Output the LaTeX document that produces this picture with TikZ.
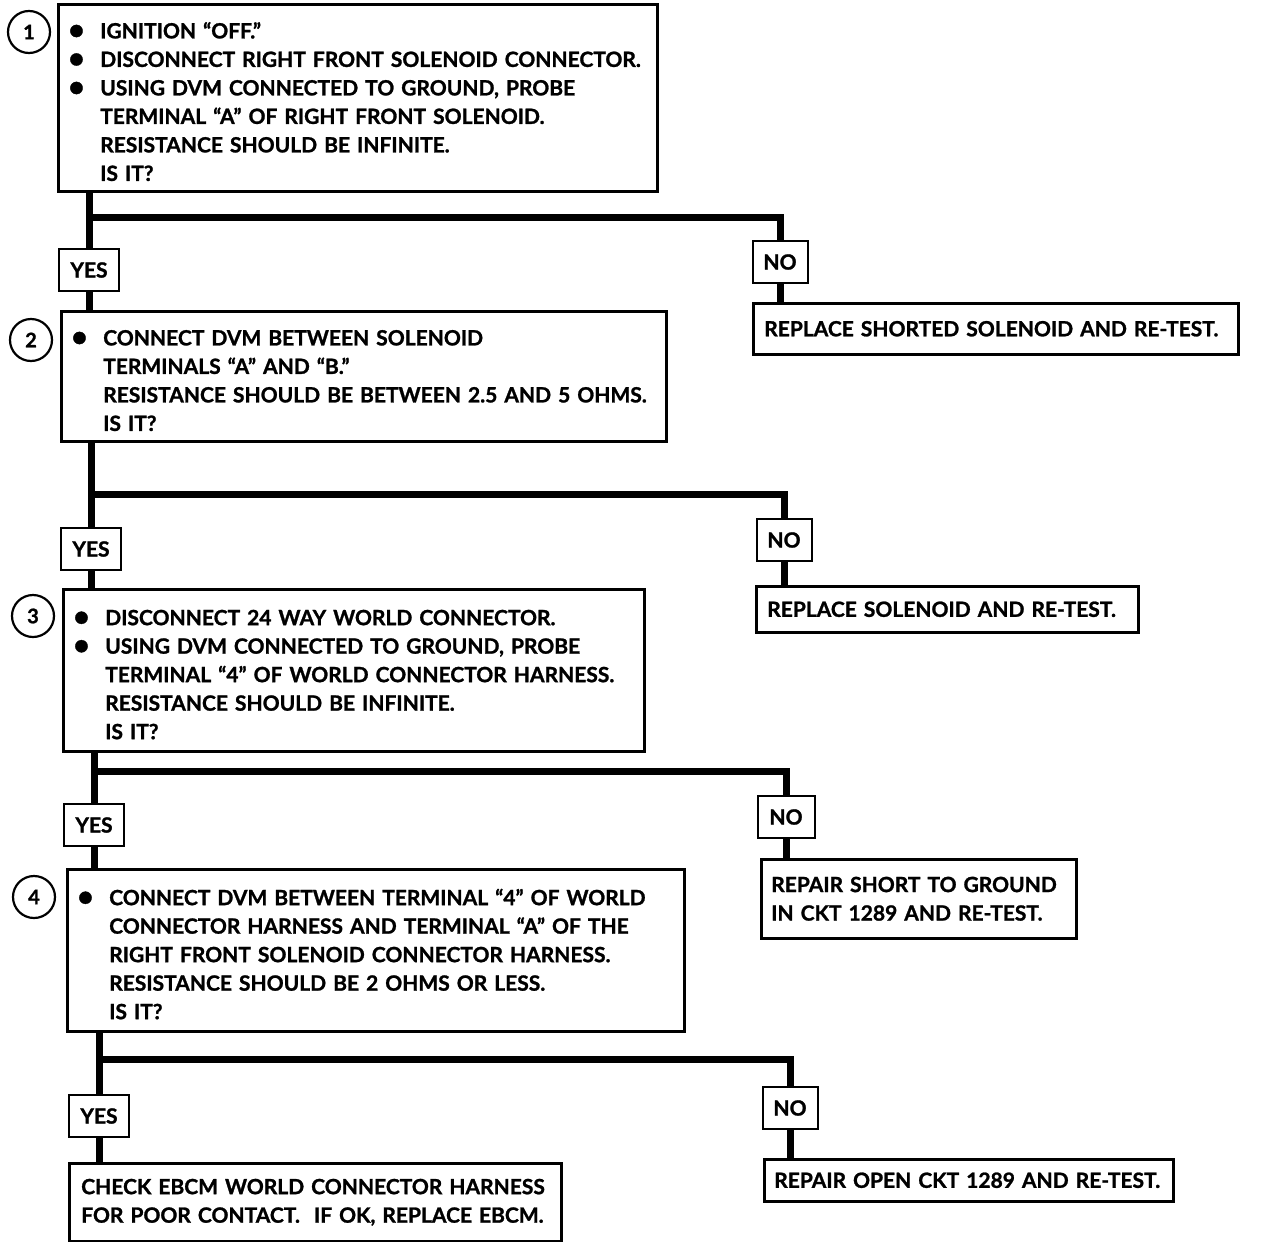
\documentclass[tikz,border=0pt]{standalone}
\usepackage{fontspec}
\setmainfont{Lato}[BoldFeatures={FakeBold=1.2}]
\usetikzlibrary{calc}

\newcommand{\bul}{\makebox[27pt][l]{\hspace*{-5pt}\raisebox{-1pt}{\scalebox{1.35}{\textbullet}}}}
\newcommand{\ind}{\hspace*{27pt}}
\newcommand{\topstrut}{\rule{0pt}{24pt}}

\tikzset{
  txt/.style={font=\bfseries\fontsize{21}{28.5}\selectfont},
  qbox/.style={txt, draw, line width=2.5pt, anchor=north west, align=left, inner xsep=15pt, inner ysep=0pt},
  rbox/.style={txt, draw, line width=2.5pt, anchor=north west, align=left, inner xsep=9pt, inner ysep=0pt},
  ansbox/.style={txt, draw, line width=2pt, minimum width=60pt, minimum height=42pt, inner sep=0pt},
  numcirc/.style={draw, circle, line width=2.2pt, minimum size=42pt, inner sep=0pt, font=\bfseries\fontsize{20}{20}\selectfont},
  link/.style={line width=7pt},
}

\begin{document}
\begin{tikzpicture}[x=1pt,y=-1pt]
\useasboundingbox (0,0) rectangle (1264,1242);

% step 1
\node[qbox, minimum width=599pt, minimum height=187pt, text width=569pt] (q1) at (57,3)
  {\topstrut\bul IGNITION ``OFF.''\\
   \bul DISCONNECT RIGHT FRONT SOLENOID CONNECTOR.\\
   \bul USING DVM CONNECTED TO GROUND, PROBE\\
   \ind TERMINAL ``A'' OF RIGHT FRONT SOLENOID.\\
   \ind RESISTANCE SHOULD BE INFINITE.\\
   \ind IS IT?};
\node[numcirc] (c1) at (29,32) {1};
\node[ansbox] (y1) at (89,270) {YES};
\node[ansbox, minimum width=55pt] (n1) at (780,262) {NO};
\node[rbox, minimum width=485pt, minimum height=51pt, text width=467pt] (r1) at (752,302)
  {\hspace*{2pt}REPLACE SHORTED SOLENOID AND RE-TEST.};

% step 2
\node[qbox, minimum width=605pt, minimum height=130pt, text width=575pt] (q2) at (60,310)
  {\topstrut\bul CONNECT DVM BETWEEN SOLENOID\\
   \ind TERMINALS ``A'' AND ``B.''\\
   \ind RESISTANCE SHOULD BE BETWEEN 2.5 AND 5 OHMS.\\
   \ind IS IT?};
\node[numcirc] (c2) at (31,340) {2};
\node[ansbox] (y2) at (91,549) {YES};
\node[ansbox, minimum width=55pt] (n2) at (784,540) {NO};
\node[rbox, minimum width=382pt, minimum height=46pt, text width=364pt] (r2) at (755,585)
  {\hspace*{2pt}REPLACE SOLENOID AND RE-TEST.};

% step 3
\node[qbox, minimum width=581pt, minimum height=162pt, text width=551pt] (q3) at (62,588)
  {\topstrut\bul DISCONNECT 24 WAY WORLD CONNECTOR.\\
   \bul USING DVM CONNECTED TO GROUND, PROBE\\
   \ind TERMINAL ``4'' OF WORLD CONNECTOR HARNESS.\\
   \ind RESISTANCE SHOULD BE INFINITE.\\
   \ind IS IT?};
\node[numcirc] (c3) at (33,616) {3};
\node[ansbox] (y3) at (94,825) {YES};
\node[ansbox, minimum width=57pt] (n3) at (786,817) {NO};
\node[rbox, minimum width=315pt, minimum height=79pt, text width=297pt] (r3) at (760,858)
  {\hspace*{1pt}REPAIR SHORT TO GROUND\\\hspace*{1pt}IN CKT 1289 AND RE-TEST.};

% step 4
\node[qbox, minimum width=617pt, minimum height=162pt, text width=587pt] (q4) at (66,868)
  {\topstrut\bul CONNECT DVM BETWEEN TERMINAL ``4'' OF WORLD\\
   \ind CONNECTOR HARNESS AND TERMINAL ``A'' OF THE\\
   \ind RIGHT FRONT SOLENOID CONNECTOR HARNESS.\\
   \ind RESISTANCE SHOULD BE 2 OHMS OR LESS.\\
   \ind IS IT?};
\node[numcirc] (c4) at (34,897) {4};
\node[ansbox] (y4) at (99,1116) {YES};
\node[ansbox, minimum width=55pt] (n4) at (790,1108) {NO};
\node[rbox, minimum width=409pt, minimum height=42pt, text width=391pt] (r4) at (763,1158)
  {\hspace*{1pt}REPAIR OPEN CKT 1289 AND RE-TEST.};
\node[rbox, minimum width=492pt, minimum height=78pt, text width=474pt] (fin) at (68,1162)
  {\hspace*{3pt}CHECK EBCM WORLD CONNECTOR HARNESS\\\hspace*{3pt}FOR POOR CONTACT.\ \ IF OK, REPLACE EBCM.};

% connectors
\coordinate (b1) at (89,217);
\coordinate (b2) at (91,494);
\coordinate (b3) at (94,771);
\coordinate (b4) at (99,1059);
\draw[link] (q1.south -| y1) -- (y1.north);
\draw[link] (y1.south) -- (q2.north -| y1);
\draw[link] (b1) -| (n1.north);
\draw[link] (n1.south) -- (r1.north -| n1);
\draw[link] (q2.south -| y2) -- (y2.north);
\draw[link] (y2.south) -- (q3.north -| y2);
\draw[link] (b2) -| (n2.north);
\draw[link] (n2.south) -- (r2.north -| n2);
\draw[link] (q3.south -| y3) -- (y3.north);
\draw[link] (y3.south) -- (q4.north -| y3);
\draw[link] (b3) -| (n3.north);
\draw[link] (n3.south) -- (r3.north -| n3);
\draw[link] (q4.south -| y4) -- (y4.north);
\draw[link] (y4.south) -- (fin.north -| y4);
\draw[link] (b4) -| (n4.north);
\draw[link] (n4.south) -- (r4.north -| n4);
\end{tikzpicture}
\end{document}
